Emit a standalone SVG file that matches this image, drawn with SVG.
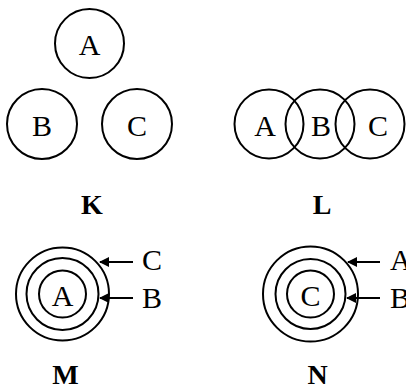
<svg xmlns="http://www.w3.org/2000/svg" width="406" height="388" viewBox="0 0 406 388">
<defs>
<style>
.c{fill:none;stroke:#000;stroke-width:2}
text{font-family:'Liberation Serif','DejaVu Serif','Times New Roman',serif;fill:#000}
.t{font-size:30px;text-anchor:middle}
.b{font-size:28px;font-weight:bold;text-anchor:middle}
.l{font-size:30px}
.a{stroke:#000;stroke-width:2;fill:none;marker-end:url(#ah)}
</style>
<marker id="ah" viewBox="0 0 10 10" refX="9" refY="5" markerWidth="5" markerHeight="5" orient="auto" markerUnits="strokeWidth">
<path d="M0,0 L10,5 L0,10 z" fill="#000"/>
</marker>
</defs>
<rect width="406" height="388" fill="#fff"/>
<g id="K">
<g id="K-A"><circle class="c" cx="89.5" cy="43.5" r="34.5"/><text class="t" x="89.5" y="55">A</text></g>
<g id="K-B"><circle class="c" cx="42" cy="124" r="35"/><text class="t" x="42" y="136">B</text></g>
<g id="K-C"><circle class="c" cx="137" cy="124" r="35"/><text class="t" x="137" y="136">C</text></g>
<text class="b" x="92" y="214">K</text>
</g>
<g id="L">
<g id="L-A"><circle class="c" cx="269" cy="124" r="34.5"/><text class="t" x="265" y="136">A</text></g>
<g id="L-B"><circle class="c" cx="320" cy="124" r="34.5"/><text class="t" x="321" y="136">B</text></g>
<g id="L-C"><circle class="c" cx="370" cy="124" r="34.5"/><text class="t" x="378" y="136">C</text></g>
<text class="b" x="322" y="214">L</text>
</g>
<g id="M">
<g id="M-C"><circle class="c" cx="62.5" cy="294" r="46.5"/></g>
<g id="M-B"><circle class="c" cx="62.5" cy="294" r="36"/></g>
<g id="M-A"><circle class="c" cx="62.5" cy="294" r="23.5"/><text class="t" x="62.5" y="306">A</text></g>
<text class="l" x="142" y="270">C</text>
<text class="l" x="142" y="308">B</text>
<text class="b" x="65.5" y="384">M</text>
</g>
<g id="N">
<g id="N-A"><circle class="c" cx="310.5" cy="294" r="47.5"/></g>
<g id="N-B"><circle class="c" cx="310.5" cy="294" r="35"/></g>
<g id="N-C"><circle class="c" cx="310.5" cy="294" r="23.5"/><text class="t" x="310.5" y="306">C</text></g>
<text class="l" x="390" y="270">A</text>
<text class="l" x="390" y="308">B</text>
<text class="b" x="317.5" y="384">N</text>
</g>
<g id="connectors">
<line class="a" x1="133" y1="262" x2="100" y2="262"/>
<line class="a" x1="133" y1="298" x2="100" y2="298"/>
<line class="a" x1="380" y1="262" x2="348" y2="262"/>
<line class="a" x1="380" y1="298" x2="347" y2="298"/>
</g>
</svg>
